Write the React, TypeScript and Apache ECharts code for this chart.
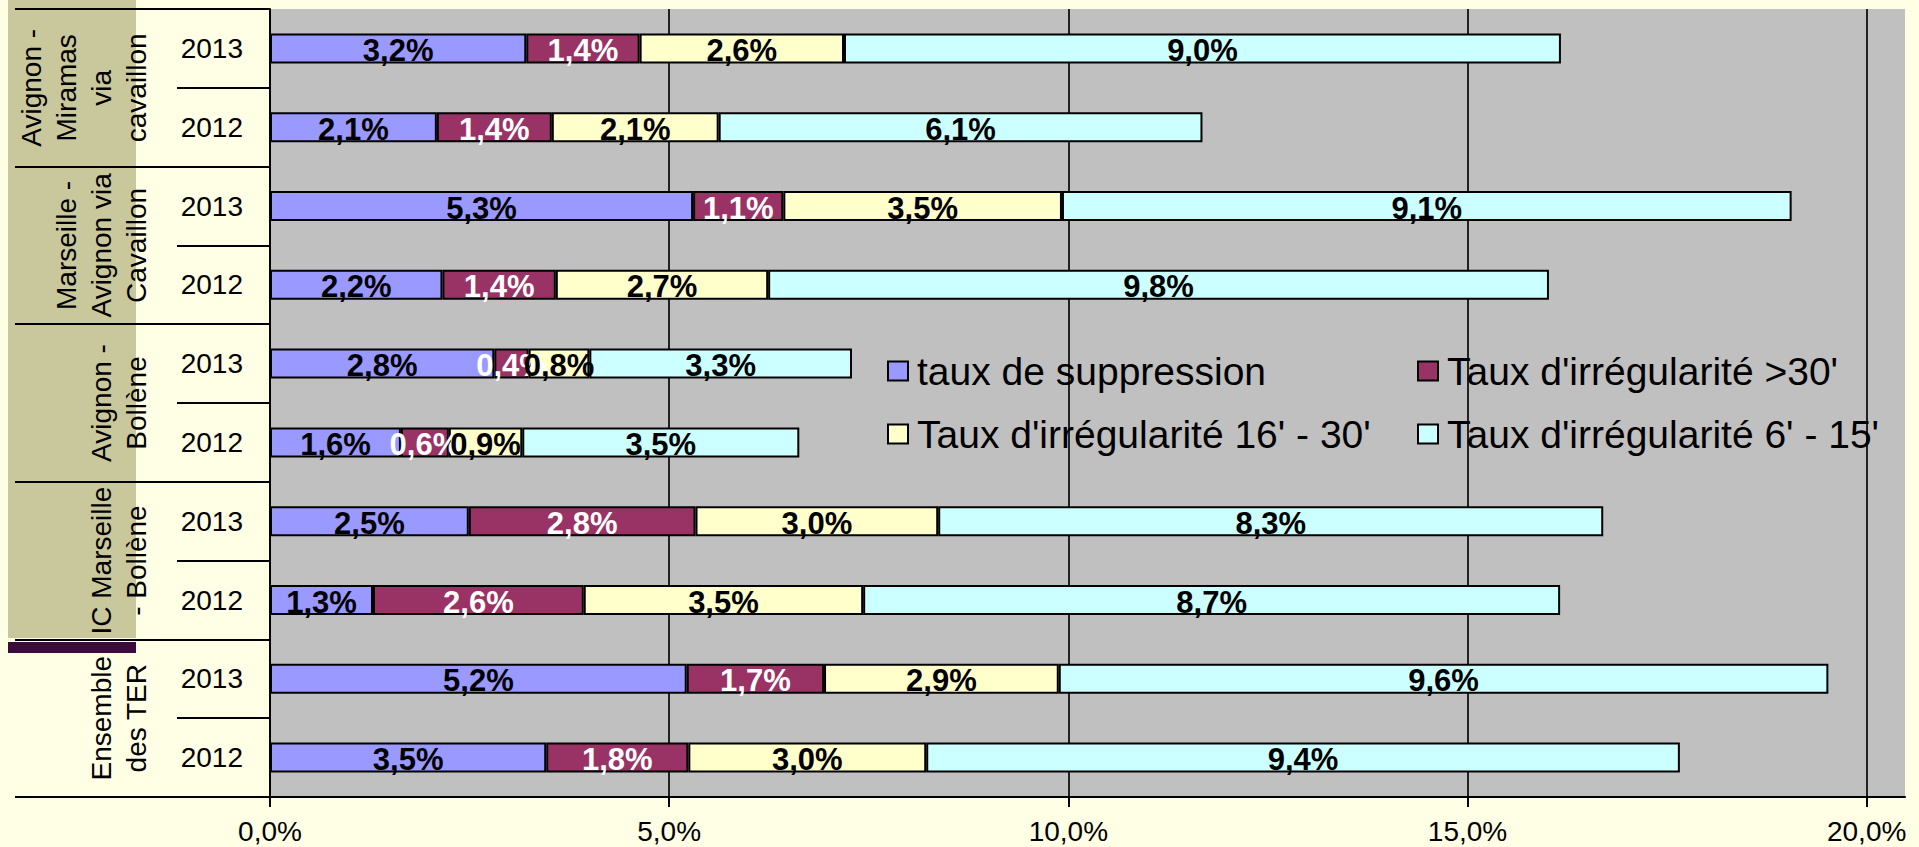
import React, { useEffect, useRef } from "react";
import * as echarts from "echarts";

const FONT = "'Liberation Sans', Arial, sans-serif";

const groups = [
  "Avignon -\nMiramas\nvia\ncavaillon",
  "Marseille -\nAvignon via\nCavaillon",
  "Avignon -\nBollène",
  "IC Marseille\n- Bollène",
  "Ensemble\ndes TER",
];
const years = ["2013", "2012", "2013", "2012", "2013", "2012", "2013", "2012", "2013", "2012"];
const categories = years.map((y, i) => `${Math.floor(i / 2)}|${y}`);

const seriesNames = [
  "taux de suppression",
  "Taux d'irrégularité >30'",
  "Taux d'irrégularité 16' - 30'",
  "Taux d'irrégularité 6' - 15'",
];
const suppression = [3.21, 2.09, 5.3, 2.16, 2.81, 1.64, 2.49, 1.29, 5.22, 3.46];
const irr30 = [1.42, 1.44, 1.13, 1.42, 0.43, 0.6, 2.84, 2.64, 1.72, 1.78];
const irr16to30 = [2.56, 2.09, 3.49, 2.66, 0.76, 0.92, 3.04, 3.5, 2.94, 2.98];
const irr6to15 = [8.98, 6.06, 9.14, 9.78, 3.29, 3.47, 8.33, 8.73, 9.64, 9.44];
const seriesValues = [suppression, irr30, irr16to30, irr6to15];
const seriesColors = ["#9999FF", "#993366", "#FFFFCC", "#CCFFFF"];
const labelColors = ["#000000", "#FFFFFF", "#000000", "#000000"];
const xTicks = [0, 5, 10, 15, 20];

const fmtPct = (v: number) => v.toFixed(1).replace(".", ",") + "%";

export default function App() {
  const ref = useRef<HTMLDivElement>(null);
  useEffect(() => {
    document.body.style.margin = "0";
    document.body.style.overflow = "hidden";
    if (!ref.current) return;
    const chart = echarts.init(ref.current, undefined, { renderer: "svg" });
    const legendText = {
      fontSize: 39,
      lineHeight: 40,
      color: "#000",
      fontFamily: FONT,
      padding: [0, 0, 0, 4],
    };
    chart.setOption({
      animation: false,
      backgroundColor: "#FFFFE6",
      textStyle: { fontFamily: FONT },
      grid: {
        left: 270,
        right: 14,
        top: 9,
        bottom: 50,
        show: true,
        backgroundColor: "#C0C0C0",
        borderWidth: 0,
        containLabel: false,
      },
      legend: [
        {
          data: [seriesNames[0], seriesNames[2]],
          orient: "vertical",
          left: 887,
          top: 351,
          padding: 0,
          itemWidth: 20,
          itemHeight: 19,
          itemGap: 23,
          icon: "rect",
          textStyle: legendText,
        },
        {
          data: [seriesNames[1], seriesNames[3]],
          orient: "vertical",
          left: 1417,
          top: 351,
          padding: 0,
          itemWidth: 20,
          itemHeight: 19,
          itemGap: 23,
          icon: "rect",
          textStyle: legendText,
        },
      ],
      xAxis: {
        type: "value",
        min: 0,
        max: 20.48,
        interval: 5,
        axisLine: { show: true, onZero: false, lineStyle: { color: "#000", width: 2 } },
        axisTick: {
          show: true,
          length: 10,
          customValues: xTicks,
          lineStyle: { color: "#000", width: 2 },
        },
        axisLabel: {
          customValues: xTicks,
          formatter: (v: number) => (Math.abs(v % 5) < 1e-9 ? fmtPct(v) : ""),
          fontSize: 28,
          color: "#000",
          margin: 20,
          fontFamily: FONT,
        },
        splitLine: {
          show: true,
          lineStyle: { color: "#222", width: 2 },
        },
      },
      yAxis: [
        {
          type: "category",
          data: categories,
          inverse: true,
          position: "left",
          axisLine: { show: true, onZero: false, lineStyle: { color: "#000", width: 2 } },
          axisTick: {
            show: true,
            length: 93,
            interval: (i: number) => i % 2 === 1,
            lineStyle: { color: "#000", width: 2 },
          },
          axisLabel: {
            interval: 0,
            formatter: (v: string) => v.split("|")[1],
            fontSize: 28,
            color: "#000",
            margin: 27,
            fontFamily: FONT,
          },
          splitLine: { show: false },
        },
        {
          type: "category",
          data: groups,
          inverse: true,
          position: "left",
          offset: 0,
          axisLine: { show: false },
          axisTick: {
            show: true,
            length: 255,
            interval: 0,
            lineStyle: { color: "#000", width: 2 },
          },
          axisLabel: {
            interval: 0,
            rotate: 90,
            margin: 116,
            fontSize: 28,
            lineHeight: 35,
            color: "#000",
            fontFamily: FONT,
          },
          splitLine: { show: false },
        },
      ],
      graphic: [
        {
          type: "rect",
          shape: { x: 8, y: 0, width: 128, height: 638 },
          style: { fill: "#C9C89C" },
          z: -10,
          silent: true,
        },
        {
          type: "rect",
          shape: { x: 8, y: 642, width: 128, height: 11 },
          style: { fill: "#3B0B3B" },
          z: 100,
          silent: true,
        },
      ],
      series: seriesNames.map((name, si) => ({
        name,
        type: "bar",
        stack: "total",
        xAxisIndex: 0,
        yAxisIndex: 0,
        barWidth: 30,
        data: seriesValues[si],
        itemStyle: { color: seriesColors[si], borderColor: "#000", borderWidth: 2 },
        label: {
          show: true,
          position: "inside",
          formatter: (p: any) => fmtPct(p.value),
          fontSize: 31,
          fontWeight: "bold",
          color: labelColors[si],
          fontFamily: FONT,
          offset: [0, 2],
        },
      })),
    });
    return () => chart.dispose();
  }, []);
  return <div ref={ref} style={{ width: 1919, height: 847 }} />;
}
